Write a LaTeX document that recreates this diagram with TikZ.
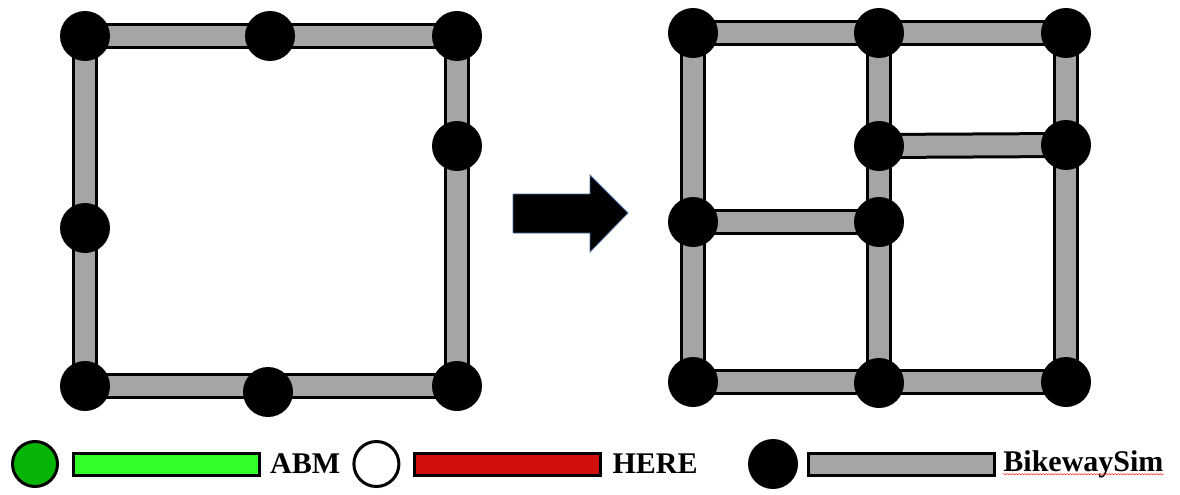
\documentclass[tikz,border=0pt]{standalone}
\usepackage{fontspec}
\setmainfont{Liberation Serif}
\usetikzlibrary{backgrounds}
\usetikzlibrary{decorations.pathmorphing}
\usetikzlibrary{positioning}
\definecolor{barfill}{RGB}{165,165,165}
\definecolor{abmdot}{RGB}{5,180,5}
\definecolor{abmbar}{RGB}{50,255,40}
\definecolor{herebar}{RGB}{210,14,14}
\definecolor{arrowedge}{RGB}{70,110,160}
\tikzset{x=1pt, y=-1pt,
    junction/.style={circle,fill=black,minimum size=50pt,inner sep=0pt},
    bar/.style={line width=3pt,double=barfill,double distance=20pt},
    legdot/.style={circle,draw,line width=3pt,minimum size=45pt,inner sep=0pt},
    legbar/.style={rectangle,draw,line width=3pt,minimum width=186pt,minimum height=22pt,inner sep=0pt},
    legtext/.style={font=\fontsize{30}{30}\selectfont\bfseries,inner sep=0pt}}

\begin{document}
\begin{tikzpicture}
\useasboundingbox (0,0) rectangle (1180,495);

% before
\node[junction] (l1) at (85,36) {};
\node[junction] (l2) at (270,36) {};
\node[junction] (l3) at (457,36) {};
\node[junction] (l4) at (457,146) {};
\node[junction] (l5) at (85,228) {};
\node[junction] (l6) at (85,386) {};
\node[junction] (l7) at (268,392) {};
\node[junction] (l8) at (457,386) {};

% after
\node[junction] (r1)  at (693,33) {};
\node[junction] (r2)  at (879,33) {};
\node[junction] (r3)  at (1066,33) {};
\node[junction] (r4)  at (879,146) {};
\node[junction] (r5)  at (1066,145) {};
\node[junction] (r6)  at (693,222) {};
\node[junction] (r7)  at (879,222) {};
\node[junction] (r8)  at (693,382) {};
\node[junction] (r9)  at (879,383) {};
\node[junction] (r10) at (1066,382) {};

\begin{pgfonlayer}{background}
\draw[bar] (l1.center) -- (l3.center);
\draw[bar] (l3.center) -- (l8.center);
\draw[bar] (l1.center) -- (l6.center);
\draw[bar] (l6.center) -- (l8.center);

\draw[bar] (r1.center) -- (r3.center);
\draw[bar] (r1.center) -- (r8.center);
\draw[bar] (r2.center) -- (r9.center);
\draw[bar] (r3.center) -- (r10.center);
\draw[bar] (r4.center) -- (r5.center);
\draw[bar] (r6.center) -- (r7.center);
\draw[bar] (r8.center) -- (r10.center);
\end{pgfonlayer}

% big arrow
\filldraw[fill=black,draw=arrowedge,line width=0.8pt]
  (513,194) -- (590,194) -- (590,175) -- (628,213) -- (590,252) -- (590,233) -- (513,233) -- cycle;

% legend
\node[legdot,fill=abmdot] (dotabm) at (35,464) {};
\node[legbar,fill=abmbar,right=13pt of dotabm] (barabm) {};
\node[legtext,right=9pt of barabm] (txtabm) {ABM};

\node[legdot,fill=white,right=12pt of txtabm] (dothere) {};
\node[legbar,fill=herebar,right=13pt of dothere] (barhere) {};
\node[legtext,right=10pt of barhere] (txthere) {HERE};

\node[junction] (dotsim) at (773,464) {};
\node[legbar,fill=barfill,right=9pt of dotsim] (barsim) {};
\node[legtext,right=7pt of barsim] (txtsim) {BikewaySim};
\draw[red,decorate,decoration={snake,amplitude=0.7pt,segment length=3pt}]
  ([yshift=-3pt]txtsim.base west) -- ([yshift=-3pt]txtsim.base east);
\end{tikzpicture}
\end{document}
